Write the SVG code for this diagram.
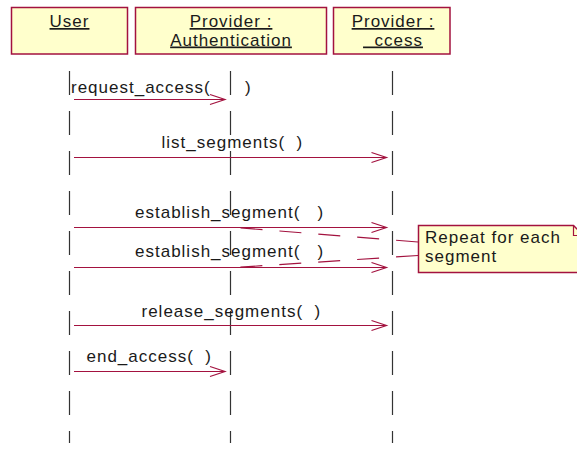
<svg xmlns="http://www.w3.org/2000/svg" width="577" height="449" viewBox="0 0 577 449">
<style>
text{font-family:"Liberation Sans",Arial,sans-serif;font-size:17px;letter-spacing:1px;fill:#1a1a1a;white-space:pre}
.box{fill:#ffffcc;stroke:#a3123f;stroke-width:1.5}
.name{text-anchor:middle;text-decoration:underline}
.life{stroke:#333;stroke-width:1.2;stroke-dasharray:24 16;fill:none}
.msg{stroke:#a3123f;stroke-width:1.2;fill:none;marker-end:url(#open)}
.anchor{stroke:#a3123f;stroke-width:1.2;fill:none;stroke-dasharray:22 17}
</style>
<defs>
<marker id="open" markerUnits="userSpaceOnUse" markerWidth="17" markerHeight="12" refX="15" refY="5.5" orient="auto" overflow="visible">
<path d="M0,0.5 L15,5.5 L0,10.5" fill="none" stroke="#a3123f" stroke-width="1.2"/>
</marker>
</defs>
<g id="user">
<rect class="box" x="11.5" y="7.5" width="116" height="46.5"/>
<text class="name" x="69.5" y="27">User</text>
<line class="life" x1="69.5" y1="71" x2="69.5" y2="443"/>
</g>
<g id="auth">
<rect class="box" x="135.5" y="7.5" width="191" height="46.5"/>
<text class="name" x="231" y="27">Provider :</text>
<text class="name" x="231" y="45.5">Authentication</text>
<line class="life" x1="230.5" y1="71" x2="230.5" y2="443"/>
</g>
<g id="access">
<rect class="box" x="333.5" y="7.5" width="116.5" height="46.5"/>
<text class="name" x="393" y="27">Provider :</text>
<text class="name" x="393" y="45.5">  ccess</text>
<line class="life" x1="392.5" y1="71" x2="392.5" y2="443"/>
</g>
<g id="note">
<path class="box" d="M418.5,225.5 H573.5 L585,237 V272.5 H418.5 Z"/>
<path d="M573.5,225.5 V235.5 H585" fill="none" stroke="#a3123f" stroke-width="1.2"/>
<text x="425" y="243.3">Repeat for each</text>
<text x="425" y="261.7">segment</text>
</g>
<g id="connectors">
<line class="msg" x1="74" y1="99.5" x2="225" y2="99.5"/>
<line class="msg" x1="74" y1="157.5" x2="386.5" y2="157.5"/>
<line class="msg" x1="74" y1="227.5" x2="386.5" y2="227.5"/>
<line class="msg" x1="74" y1="267.5" x2="386.5" y2="267.5"/>
<line class="msg" x1="74" y1="325.5" x2="386.5" y2="325.5"/>
<line class="msg" x1="74" y1="371.5" x2="225" y2="371.5"/>
<line class="anchor" x1="418" y1="242" x2="235" y2="227.5"/>
<line class="anchor" x1="418" y1="255.5" x2="235" y2="267.5"/>
</g>
<g id="labels">
<text x="71" y="92.7">request_access(      )</text>
<text x="161.5" y="148.3">list_segments(  )</text>
<text x="135" y="218.3">establish_segment(   )</text>
<text x="135" y="256.7">establish_segment(   )</text>
<text x="141.5" y="316.7">release_segments(  )</text>
<text x="86.5" y="361.7">end_access(  )</text>
</g>
</svg>
